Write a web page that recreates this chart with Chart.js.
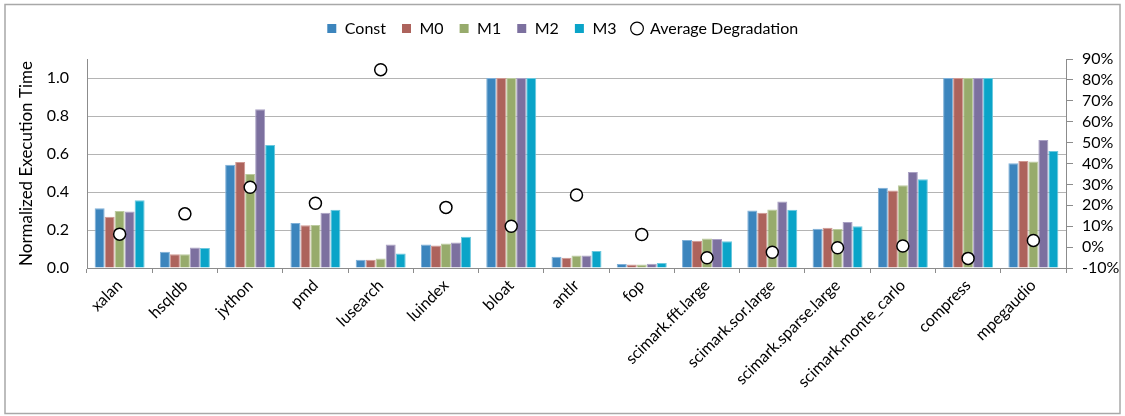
<!DOCTYPE html>
<html>
<head>
<meta charset="utf-8">
<script src="https://cdn.jsdelivr.net/npm/chart.js@4.4.1/dist/chart.umd.min.js"></script>
<style>
  html, body { margin: 0; padding: 0; background: #fff; }
  #wrap { width: 1125px; height: 416px; position: relative; }
</style>
</head>
<body>
<div id="wrap"><canvas id="c" width="1125" height="416"></canvas></div>
<script>
// Benchmarks and normalized execution times per configuration
const benchmarks = ['xalan', 'hsqldb', 'jython', 'pmd', 'lusearch', 'luindex', 'bloat', 'antlr', 'fop',
  'scimark.fft.large', 'scimark.sor.large', 'scimark.sparse.large', 'scimark.monte_carlo', 'compress', 'mpegaudio'];
const constTimes = [0.314, 0.085, 0.544, 0.237, 0.043, 0.124, 1.0, 0.059, 0.021, 0.148, 0.303, 0.207, 0.423, 1.0, 0.551];
const m0Times    = [0.270, 0.073, 0.558, 0.225, 0.043, 0.119, 1.0, 0.054, 0.018, 0.144, 0.291, 0.212, 0.408, 1.0, 0.563];
const m1Times    = [0.300, 0.073, 0.495, 0.226, 0.050, 0.129, 1.0, 0.066, 0.018, 0.155, 0.308, 0.205, 0.436, 1.0, 0.561];
const m2Times    = [0.298, 0.108, 0.835, 0.291, 0.124, 0.134, 1.0, 0.066, 0.023, 0.153, 0.350, 0.242, 0.505, 1.0, 0.674];
const m3Times    = [0.357, 0.105, 0.647, 0.307, 0.076, 0.164, 1.0, 0.089, 0.026, 0.141, 0.307, 0.220, 0.467, 1.0, 0.616];
// Average degradation, in percent (right axis)
const avgDegradation = [6.2, 15.9, 28.6, 21.0, 84.9, 19.0, 10.0, 24.9, 6.0, -5.1, -2.5, -0.3, 0.5, -5.4, 3.2];

const seriesNames = ['Const', 'M0', 'M1', 'M2', 'M3'];
const seriesValues = [constTimes, m0Times, m1Times, m2Times, m3Times];
const fills   = ['#3c85bd', '#ad635c', '#97ab6c', '#7c709f', '#0aa4c8'];
const edges   = ['#7fb0d8', '#cf9892', '#bccb9f', '#aaa1c4', '#6cc8de'];

const FONT = 'Lato, "Open Sans", sans-serif';
const AXIS = '#8c8c8c';
const GRID = '#b4b4b4';

const barSets = seriesNames.map((name, i) => ({
  type: 'bar',
  label: name,
  data: seriesValues[i],
  backgroundColor: fills[i],
  borderColor: edges[i],
  borderWidth: { top: 1, left: 1, right: 1, bottom: 0 },
  pointStyle: 'rect',
  yAxisID: 'y',
  order: 1,
  barPercentage: 1.0,
  categoryPercentage: 0.766
}));

const degradationSet = {
  type: 'line',
  label: 'Average Degradation',
  data: avgDegradation,
  showLine: false,
  yAxisID: 'y1',
  order: 0,
  pointStyle: 'circle',
  pointRadius: 6,
  pointHoverRadius: 6,
  pointBackgroundColor: '#ffffff',
  pointBorderColor: '#000000',
  pointBorderWidth: 1.5,
  backgroundColor: '#ffffff',
  borderColor: '#000000',
  borderWidth: 1.2
};

// Light frame around the whole figure
const framePlugin = {
  id: 'frame',
  beforeDraw(chart) {
    const ctx = chart.ctx;
    ctx.save();
    ctx.fillStyle = '#fff';
    ctx.fillRect(0, 0, chart.width, chart.height);
    ctx.restore();
  },
  afterDraw(chart) {
    const ctx = chart.ctx;
    ctx.save();
    ctx.strokeStyle = '#a8a8a8';
    ctx.lineWidth = 1.5;
    ctx.strokeRect(5, 4.5, 1115, 409);
    ctx.restore();
  }
};

// Fixed legend band height
const legendHeightPlugin = {
  id: 'legendHeight',
  beforeInit(chart) {
    const origFit = chart.legend.fit;
    chart.legend.fit = function () {
      origFit.call(this);
      this.height = 54;
    };
  }
};

new Chart(document.getElementById('c'), {
  data: { labels: benchmarks, datasets: [...barSets, degradationSet] },
  options: {
    responsive: false,
    animation: false,
    devicePixelRatio: 1,
    layout: { padding: { top: 5, left: 0, right: 0, bottom: 0 } },
    plugins: {
      tooltip: { enabled: false },
      legend: {
        display: true,
        position: 'top',
        labels: {
          usePointStyle: true,
          boxHeight: 9,
          boxWidth: 10,
          padding: 15.5,
          color: '#000',
          font: { family: FONT, size: 16 },
          sort: (a, b) => a.datasetIndex - b.datasetIndex,
          generateLabels(chart) {
            const items = Chart.defaults.plugins.legend.labels.generateLabels(chart);
            items.forEach((it) => {
              const i = it.datasetIndex;
              if (i < seriesNames.length) {
                it.fillStyle = fills[i];
                it.strokeStyle = fills[i];
                it.lineWidth = 0;
                it.pointStyle = 'rect';
              } else {
                it.fillStyle = '#fff';
                it.strokeStyle = '#000';
                it.lineWidth = 1.2;
                it.pointStyle = 'circle';
              }
            });
            return items;
          }
        }
      }
    },
    scales: {
      x: {
        type: 'category',
        offset: true,
        grid: { display: true, offset: true, drawOnChartArea: false, drawTicks: true, tickLength: 5, color: AXIS },
        border: { display: true, color: AXIS, width: 1 },
        ticks: {
          color: '#000',
          font: { family: FONT, size: 16 },
          minRotation: 45,
          maxRotation: 45,
          autoSkip: false,
          padding: 3
        },
        afterFit(scale) { scale.height = 148; }
      },
      y: {
        type: 'linear',
        position: 'left',
        min: 0,
        max: 1.1,
        grid: { color: GRID, drawTicks: false, lineWidth: 1 },
        border: { display: true, color: AXIS },
        ticks: {
          stepSize: 0.2,
          includeBounds: false,
          padding: 18,
          color: '#000',
          font: { family: FONT, size: 16 },
          callback: (v) => v.toFixed(1)
        },
        title: {
          display: true,
          text: 'Normalized Execution Time',
          color: '#000',
          font: { family: FONT, size: 17 },
          padding: { top: 16, bottom: 0 }
        },
        afterFit(scale) { scale.width = 87; }
      },
      y1: {
        type: 'linear',
        position: 'right',
        min: -10,
        max: 90,
        grid: { drawOnChartArea: false, drawTicks: true, tickLength: 7, color: AXIS },
        border: { display: true, color: AXIS },
        ticks: {
          stepSize: 10,
          autoSkip: false,
          padding: 9,
          color: '#000',
          font: { family: FONT, size: 16 },
          callback: (v) => v + '%'
        },
        afterFit(scale) { scale.width = 59; }
      }
    }
  },
  plugins: [framePlugin, legendHeightPlugin]
});
</script>
</body>
</html>
